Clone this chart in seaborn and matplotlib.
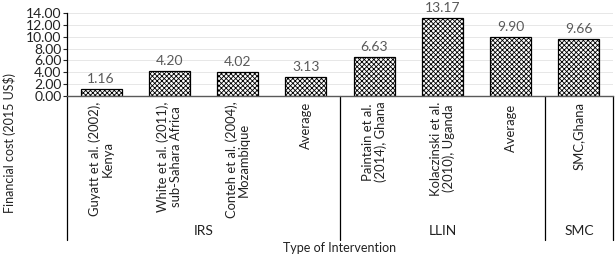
import matplotlib
matplotlib.use('Agg')
import matplotlib.pyplot as plt
import matplotlib.transforms as mtransforms
import seaborn as sns
import pandas as pd

# ── Data ──────────────────────────────────────────────────────────────────────
categories = [
    "Guyatt et al. (2002),\nKenya",
    "White et al. (2011),\nsub-Sahara Africa",
    "Conteh et al. (2004),\nMozambique",
    "Average",
    "Paintain et al.\n(2014), Ghana",
    "Kolaczinski et al.\n(2010), Uganda",
    "Average ",
    "SMC,Ghana",
]
costs = [1.16, 4.20, 4.02, 3.13, 6.63, 13.17, 9.90, 9.66]
groups = ["IRS", "LLIN", "SMC"]
group_sizes = [4, 3, 1]
yticks = [0, 2, 4, 6, 8, 10, 12, 14]

df = pd.DataFrame({"study": categories, "cost": costs})

sns.set_style("white")
plt.rcParams['font.family'] = ['Lato', 'DejaVu Sans']
plt.rcParams['hatch.linewidth'] = 0.6

fig = plt.figure(figsize=(6.15, 2.62), dpi=100)
ax = fig.add_axes([67 / 615, 1 - 96 / 262, 546 / 615, 83 / 262])

sns.barplot(data=df, x="study", y="cost", ax=ax, width=0.6,
            color="white", edgecolor="black", linewidth=0.9)
for bar in ax.patches:
    bar.set_hatch("xxxxxxx")

ax.bar_label(ax.containers[0], labels=[f"{v:.2f}" for v in costs],
             padding=3, fontsize=10, color="#595959")

ax.set_ylim(0, 14)
ax.set_xlim(-0.5, len(categories) - 0.5)
ax.set_yticks(yticks)
ax.set_yticklabels([f"{v:.2f}" for v in yticks], fontsize=10, color="#222222")
ax.yaxis.grid(True, color="#e3e3e3", linewidth=0.6)
ax.set_axisbelow(True)
ax.tick_params(axis='y', length=3, width=0.8, pad=1, left=True)
ax.tick_params(axis='x', length=0, pad=4)
ax.set_xticks(range(len(categories)))
ax.set_xticklabels(categories, rotation=90, va='top', ha='center',
                   multialignment='center', fontsize=9.4, color="#222222",
                   linespacing=1.05)
ax.set_xlabel("")
ax.set_ylabel("")

for s in ["top", "right"]:
    ax.spines[s].set_visible(False)
ax.spines["bottom"].set_color("#595959")
ax.spines["bottom"].set_linewidth(1.0)
ax.spines["left"].set_color("black")
ax.spines["left"].set_linewidth(0.9)
ax.spines["left"].set_bounds(0, 14)

# group separators and labels below the axis
trans = mtransforms.blended_transform_factory(ax.transData, ax.transAxes)
y_low = (96 - 240) / 83
bounds = [-0.5]
for n in group_sizes:
    bounds.append(bounds[-1] + n)
for b in bounds:
    ax.plot([b, b], [0, y_low], color="black", lw=0.9, transform=trans,
            clip_on=False)
for g, lo, hi in zip(groups, bounds[:-1], bounds[1:]):
    ax.text((lo + hi) / 2, (96 - 231) / 83, g, transform=trans,
            ha='center', va='center', fontsize=10, color="#222222")

fig.text(340 / 615, 1 - 248 / 262, "Type of Intervention", ha='center',
         va='center', fontsize=9, color="#222222")
fig.text(10 / 615, 1 - 143 / 262, "Financial cost (2015 US$)", rotation=90,
         ha='center', va='center', fontsize=9, color="#222222")

fig.savefig("out.png", dpi=100)
